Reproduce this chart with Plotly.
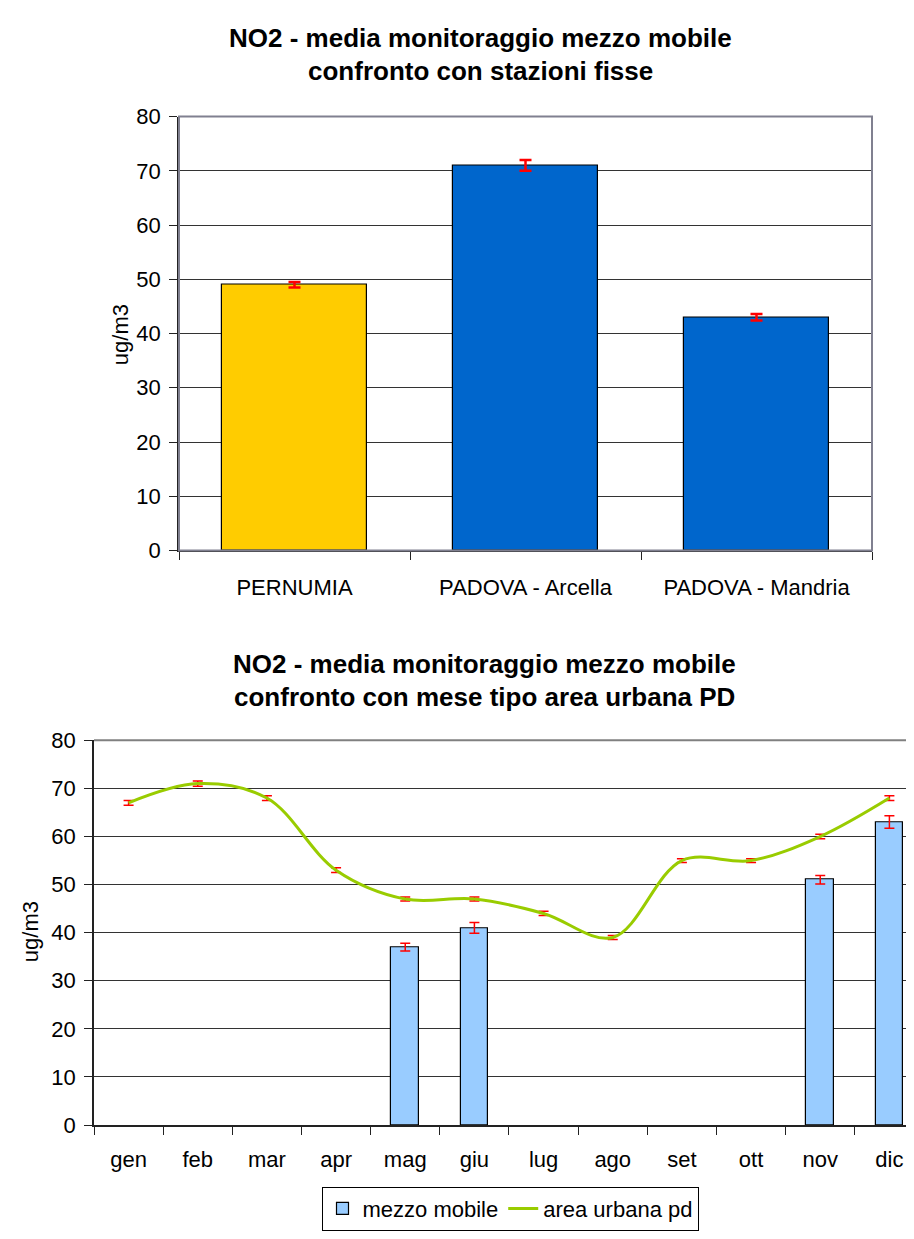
import plotly.graph_objects as go

# ---- data: top chart ----
stations = ["PERNUMIA", "PADOVA - Arcella", "PADOVA - Mandria"]
station_values = [49, 71, 43]
station_errors = [0.5, 1.0, 0.6]
station_colors = ["#FFCC00", "#0066CC", "#0066CC"]

# ---- data: bottom chart ----
months = ["gen", "feb", "mar", "apr", "mag", "giu", "lug", "ago", "set", "ott", "nov", "dic"]
mobile_months = ["mag", "giu", "nov", "dic"]
mobile_values = [37, 41, 51, 63]
mobile_errors = [0.8, 1.1, 0.9, 1.3]
urban_values = [67, 71, 68, 53, 47, 47, 44, 39, 55, 55, 60, 68]
urban_errors = [0.5, 0.55, 0.5, 0.5, 0.4, 0.4, 0.45, 0.4, 0.4, 0.4, 0.45, 0.5]

# page is 914x1239; the html body has an 8px margin, so the figure is 16px smaller
OFF = 8
W, H = 914 - 2 * OFF, 1239 - 2 * OFF
FONT = "Liberation Sans, Arial, sans-serif"
RED = "#FF0000"


def px_x(v):
    return (v - OFF) / W


def px_y(v):
    return 1 - (v - OFF) / H


fig = go.Figure()

fig.add_trace(go.Bar(
    x=stations, y=station_values, xaxis="x", yaxis="y",
    marker=dict(color=station_colors, line=dict(color="black", width=1.2)),
    width=0.63,
    error_y=dict(type="data", array=station_errors, color=RED, thickness=2.5, width=6),
    showlegend=False,
))

fig.add_trace(go.Bar(
    x=mobile_months, y=mobile_values, xaxis="x2", yaxis="y2",
    name="mezzo mobile",
    marker=dict(color="#99CCFF", line=dict(color="black", width=1.2)),
    width=0.4,
    error_y=dict(type="data", array=mobile_errors, color=RED, thickness=1.5, width=5),
))

fig.add_trace(go.Scatter(
    x=months, y=urban_values, xaxis="x2", yaxis="y2",
    name="area urbana pd", mode="lines",
    line=dict(color="#99CC00", width=3, shape="spline", smoothing=1.0),
    error_y=dict(type="data", array=urban_errors, color=RED, thickness=1.5, width=5),
))

axis_font = dict(family=FONT, size=22, color="black")

fig.update_layout(
    width=W, height=H,
    margin=dict(l=0, r=0, t=0, b=0),
    paper_bgcolor="white", plot_bgcolor="white",
    font=dict(family=FONT, size=22, color="black"),
    bargap=0,
    xaxis=dict(
        domain=[px_x(179), px_x(872)], anchor="y",
        type="category", categoryorder="array", categoryarray=stations,
        range=[-0.5, 2.5],
        showline=True, linecolor="#222", linewidth=1.5,
        ticks="outside", ticklen=8, tickcolor="#222", tickson="boundaries",
        tickfont=axis_font, ticklabelstandoff=16,
        showgrid=False, fixedrange=True,
    ),
    yaxis=dict(
        domain=[px_y(550), px_y(106.7)], anchor="x",
        range=[0, 80], dtick=10,
        showline=True, linecolor="#222", linewidth=1.5,
        ticks="outside", ticklen=8, tickcolor="#222",
        tickfont=axis_font, ticklabelstandoff=4,
        showgrid=True, gridcolor="#333", gridwidth=1,
        zeroline=False,
    ),
    xaxis2=dict(
        domain=[px_x(94), 1.0], anchor="y2",
        type="category", categoryorder="array", categoryarray=months,
        range=[-0.5, 11.24],
        showline=True, linecolor="#222", linewidth=1.5,
        ticks="outside", ticklen=8, tickcolor="#222", tickson="boundaries",
        tickfont=axis_font, ticklabelstandoff=14,
        showgrid=False,
    ),
    yaxis2=dict(
        domain=[px_y(1137), px_y(744)], anchor="x2",
        range=[0, 80], dtick=10,
        showline=True, linecolor="#222", linewidth=1.5,
        ticks="outside", ticklen=8, tickcolor="#222",
        tickfont=axis_font, ticklabelstandoff=4,
        showgrid=True, gridcolor="#333", gridwidth=1,
        zeroline=False,
    ),
    legend=dict(
        orientation="h", x=px_x(510), xanchor="center",
        y=px_y(1200), yanchor="top",
        bordercolor="black", borderwidth=1,
        font=dict(family=FONT, size=22, color="black"),
        itemwidth=30,
    ),
    shapes=[
        dict(type="rect", xref="x domain", yref="y domain", x0=0, x1=1, y0=0, y1=1,
             line=dict(color="#808090", width=2), layer="above"),
        dict(type="line", xref="x2 domain", yref="y2 domain", x0=0, x1=1, y0=1, y1=1,
             line=dict(color="#808080", width=2), layer="above"),
    ],
)

title_font = dict(family=FONT, size=26, color="black")
annotations = [
    dict(text="<b>NO2 - media monitoraggio mezzo mobile</b>", x=px_x(480), y=px_y(26)),
    dict(text="<b>confronto con stazioni fisse</b>", x=px_x(480), y=px_y(60)),
    dict(text="<b>NO2 - media monitoraggio mezzo mobile</b>", x=px_x(484), y=px_y(666)),
    dict(text="<b>confronto con mese tipo area urbana PD</b>", x=px_x(484), y=px_y(700)),
]
for a in annotations:
    fig.add_annotation(xref="paper", yref="paper", xanchor="center", yanchor="middle",
                       showarrow=False, font=title_font, **a)

for (x, y) in [(120, 330), (30, 940)]:
    fig.add_annotation(text="ug/m3", xref="paper", yref="paper", x=px_x(x), y=px_y(y),
                       xanchor="center", yanchor="middle", textangle=-90, showarrow=False,
                       font=dict(family=FONT, size=22, color="black"))

fig.write_html("out.html")
